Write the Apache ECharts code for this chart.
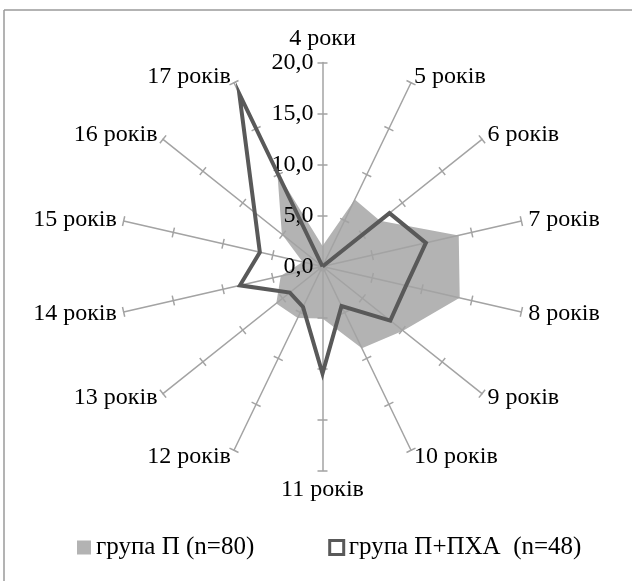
<!DOCTYPE html>
<html>
<head>
<meta charset="utf-8">
<script src="https://cdn.jsdelivr.net/npm/echarts@6/dist/echarts.min.js"></script>
<style>
html,body{margin:0;padding:0;background:#fff;}
#chart{width:632px;height:581px;}
</style>
</head>
<body>
<div id="chart"></div>
<script>
const categories = ['4 роки','5 років','6 років','7 років','8 років','9 років','10 років','11 років','12 років','13 років','14 років','15 років','16 років','17 років'];
const groupP = [2.0, 7.3, 7.2, 13.7, 13.8, 10.1, 8.9, 5.1, 5.6, 5.8, 4.2, 2.0, 5.1, 10.2];
const groupPPXA = [0, 0, 8.4, 10.4, 8.4, 8.5, 4.3, 10.5, 4.4, 4.1, 8.3, 6.3, 8.5, 18.8];
const seriesNames = ['група П (n=80)', 'група П+ПХА  (n=48)'];
const axisMax = 20;

// ECharts places indicators counter-clockwise; reorder so they run clockwise
const order = [0].concat(categories.map((c, i) => i).slice(1).reverse());
const ind = order.map((i, k) => {
  const o = { name: categories[i], max: axisMax, min: 0 };
  if (k === 0) o.axisLabel = { show: true };
  return o;
});
const ind2 = order.map(i => ({ name: categories[i], max: axisMax, min: 0 }));
const reorder = arr => order.map(i => arr[i]);

const font = 'Liberation Serif, Times New Roman, serif';
const axisCol = '#a3a3a3';

const chart = echarts.init(document.getElementById('chart'), null, { renderer: 'canvas' });
chart.setOption({
  animation: false,
  backgroundColor: '#fff',
  graphic: [
    { type: 'line', shape: { x1: 4, y1: 10, x2: 4, y2: 581 }, style: { stroke: '#9a9a9a', lineWidth: 1.5 } },
    { type: 'line', shape: { x1: 4, y1: 10, x2: 632, y2: 10 }, style: { stroke: '#9a9a9a', lineWidth: 1.5 } }
  ],
  legend: {
    left: 72, top: 530,
    itemWidth: 14, itemHeight: 14, itemGap: 74,
    textStyle: { fontFamily: font, fontSize: 25, color: '#000' },
    data: [
      { name: seriesNames[0], icon: 'rect', itemStyle: { color: '#b3b3b3', borderWidth: 0 } },
      { name: seriesNames[1], icon: 'rect', itemStyle: { color: '#fff', borderColor: '#595959', borderWidth: 3 } }
    ]
  },
  radar: [
    {
      center: [322.5, 266.5], radius: 204, startAngle: 90, splitNumber: 4, shape: 'polygon', z: 3,
      indicator: ind,
      axisName: { color: '#000', fontFamily: font, fontSize: 24 },
      nameGap: 7,
      axisLine: { lineStyle: { color: axisCol, width: 1.5 } },
      axisTick: { show: true, length: 5, lineStyle: { color: axisCol, width: 1.5 } },
      axisLabel: { show: false, color: '#000', fontFamily: font, fontSize: 24, margin: 9,
        formatter: v => Number(v).toFixed(1).replace('.', ',') },
      splitLine: { show: false },
      splitArea: { show: false }
    },
    {
      center: [322.5, 266.5], radius: 204, startAngle: 90, splitNumber: 4, shape: 'polygon', z: 3,
      indicator: ind2,
      axisName: { show: false },
      axisLine: { show: false },
      axisTick: { show: true, length: -5, lineStyle: { color: axisCol, width: 1.5 } },
      axisLabel: { show: false },
      splitLine: { show: false },
      splitArea: { show: false }
    }
  ],
  series: [
    {
      type: 'radar', radarIndex: 0, name: seriesNames[0], z: 1, symbol: 'none',
      lineStyle: { width: 0, color: '#b3b3b3' },
      areaStyle: { color: '#b3b3b3', opacity: 1 },
      itemStyle: { color: '#b3b3b3' },
      data: [{ name: seriesNames[0], value: reorder(groupP) }]
    },
    {
      type: 'radar', radarIndex: 0, name: seriesNames[1], z: 5, symbol: 'none',
      lineStyle: { width: 4, color: '#595959', join: 'miter' },
      itemStyle: { color: '#595959' },
      data: [{ name: seriesNames[1], value: reorder(groupPPXA) }]
    }
  ]
});
</script>
</body>
</html>
